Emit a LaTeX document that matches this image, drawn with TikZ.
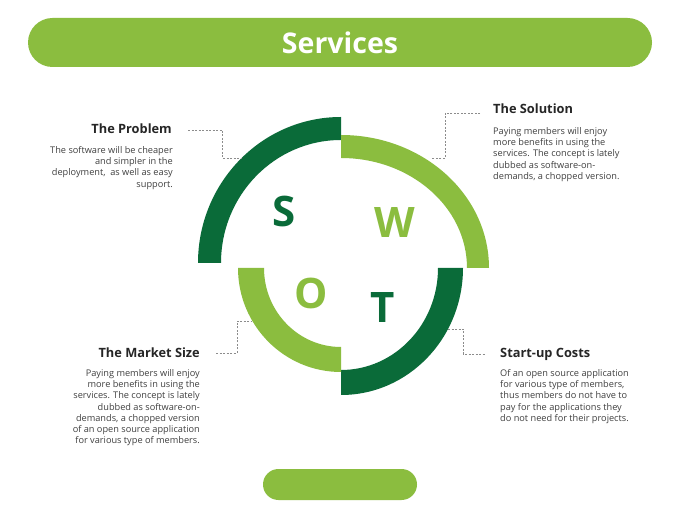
\documentclass[tikz,border=0pt]{standalone}
\usepackage{fontspec}
\setmainfont{Open Sans}
\definecolor{dk}{HTML}{0A6B39}
\definecolor{lt}{HTML}{8BBD3F}
\definecolor{txt}{HTML}{404040}
\definecolor{hd}{HTML}{262626}
\definecolor{dsh}{HTML}{8C8C8C}
\begin{document}
\begin{tikzpicture}[x=1pt,y=-1pt,
  conn/.style={draw=dsh, dash pattern=on 2pt off 1.5pt, line width=0.7pt},
  head/.style={font=\bfseries\fontsize{12.8}{15}\selectfont, text=hd, inner sep=0},
  bodyr/.style={font=\fontsize{9.2}{11.3}\selectfont, text=txt, align=right, inner sep=0, anchor=north east},
  bodyl/.style={font=\fontsize{9.2}{11.3}\selectfont, text=txt, align=left, inner sep=0, anchor=north west},
  letter/.style={font=\bfseries\fontsize{42}{42}\selectfont, inner sep=0},
  pill/.style={fill=lt, rounded corners=#1, inner sep=0}]
\useasboundingbox (0,0) rectangle (680,510);
\fill[white] (0,0) rectangle (680,510);

% header and footer
\node[pill=24.5pt, minimum width=624pt, minimum height=49pt, text=white,
      font=\bfseries\fontsize{28.5}{30}\selectfont] (bar) at (340,42.5) {Services};
\node[pill=15.5pt, minimum width=154pt, minimum height=31pt] (foot) at (340,484.5) {};

% arcs
\fill[dk] (198,263) arc[start angle=180,end angle=270,x radius=143,y radius=146]
  -- (341,140) arc[start angle=270,end angle=180,x radius=120,y radius=123] -- cycle;
\fill[lt] (341,135) arc[start angle=270,end angle=360,x radius=148,y radius=133]
  -- (467,268) arc[start angle=360,end angle=270,x radius=126,y radius=110] -- cycle;
\fill[dk] (463,268) arc[start angle=0,end angle=90,x radius=122,y radius=127]
  -- (341,370) arc[start angle=90,end angle=0,x radius=97,y radius=102] -- cycle;
\fill[lt] (341,372) arc[start angle=90,end angle=180,x radius=103,y radius=104]
  -- (264,268) arc[start angle=180,end angle=90,x radius=77,y radius=79] -- cycle;

% letters
\node[letter, text=dk] (S) at (284,212) {S};
\node[letter, text=lt] (W) at (395,223) {W};
\node[letter, text=lt] (O) at (311,293) {O};
\node[letter, text=dk] (T) at (383,308) {T};

% text blocks
\node[head, anchor=base east] (prob) at (172,134) {The Problem};
\node[bodyr] (probt) at (173,146) {The software will be cheaper\\and simpler in the\\deployment,\ \ as well as easy\\support.};

\node[head, anchor=base west] (sol) at (493,114) {The Solution};
\node[bodyl] (solt) at (493,127) {Paying members will enjoy\\more benefits in using the\\services. The concept is lately\\dubbed as software-on-\\demands, a chopped version.};

\node[head, anchor=base east] (mkt) at (200,358) {The Market Size};
\node[bodyr] (mktt) at (200,369) {Paying members will enjoy\\more benefits in using the\\services. The concept is lately\\dubbed as software-on-\\demands, a chopped version\\of an open source application\\for various type of members.};

\node[head, anchor=base west] (cost) at (500,358) {Start-up Costs};
\node[bodyl] (costt) at (500,369) {Of an open source application\\for various type of members,\\thus members do not have to\\pay for the applications they\\do not need for their projects.};

% connectors
\coordinate (p1) at (188,130); \coordinate (p2) at (242,158);
\draw[conn] (p1) -| (222,158) -- (p2);
\coordinate (s1) at (480,113); \coordinate (s2) at (432,158);
\draw[conn] (s1) -| (445,158) -- (s2);
\coordinate (m1) at (216,353); \coordinate (m2) at (252,321);
\draw[conn] (m1) -| (237,321) -- (m2);
\coordinate (c1) at (448,329); \coordinate (c2) at (485,354);
\draw[conn] (c1) -| (463,354) -- (c2);
\end{tikzpicture}
\end{document}
